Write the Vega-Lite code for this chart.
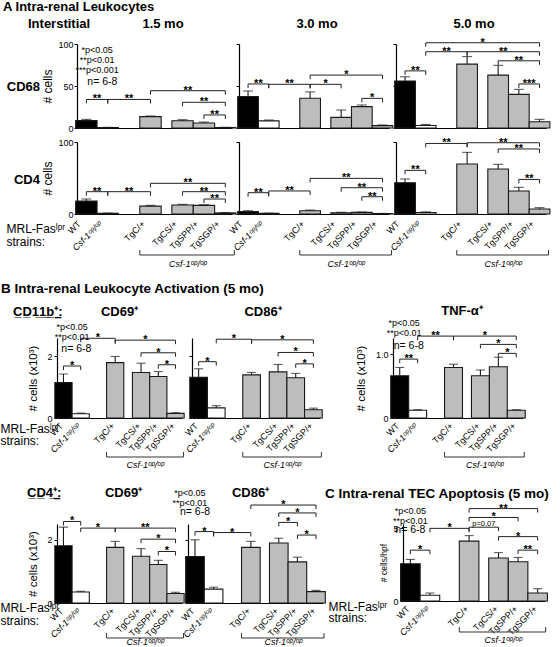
{
"$schema":"https://vega.github.io/schema/vega-lite/v6.json",
"padding":{"left":0,"top":1,"right":0,"bottom":0},
"config":{"view":{"stroke":null},"font":"Liberation Sans",
"axis":{"domainColor":"#000","domainWidth":1.2,"tickColor":"#000","tickWidth":1,"labelColor":"#000","titleColor":"#000","labelFont":"Liberation Sans","titleFont":"Liberation Sans","grid":false,"labelFontSize":9,"titleFontWeight":"normal"},
"title":{"color":"#000","font":"Liberation Sans","fontSize":13,"fontWeight":"bold","frame":"group"},
"text":{"color":"#000","font":"Liberation Sans"}},
"datasets":{
"one":[{"k":1}],
"bars":[
{"p":"a1","s":"WT","m":9,"e":10.3},{"p":"a1","s":"Csf-1ᵒᵖ/ᵒᵖ","m":0.6,"e":0.8},{"p":"a1","s":"TgC/+","m":13.5,"e":14.3},{"p":"a1","s":"TgCS/+","m":8.7,"e":9.9},{"p":"a1","s":"TgSPP/+","m":6,"e":7.1},{"p":"a1","s":"TgSGP/+","m":0.6,"e":0.8},
{"p":"a2","s":"WT","m":37.5,"e":44},{"p":"a2","s":"Csf-1ᵒᵖ/ᵒᵖ","m":8.5,"e":9.5},{"p":"a2","s":"TgC/+","m":35.5,"e":43},{"p":"a2","s":"TgCS/+","m":12.7,"e":21.4},{"p":"a2","s":"TgSPP/+","m":25.4,"e":27.4},{"p":"a2","s":"TgSGP/+","m":2.8,"e":3.6},
{"p":"a3","s":"WT","m":56,"e":61},{"p":"a3","s":"Csf-1ᵒᵖ/ᵒᵖ","m":3,"e":4.2},{"p":"a3","s":"TgC/+","m":76,"e":85},{"p":"a3","s":"TgCS/+","m":63,"e":74.6},{"p":"a3","s":"TgSPP/+","m":40,"e":46},{"p":"a3","s":"TgSGP/+","m":7.5,"e":10.3},
{"p":"a4","s":"WT","m":18,"e":20.8},{"p":"a4","s":"Csf-1ᵒᵖ/ᵒᵖ","m":1,"e":1.3},{"p":"a4","s":"TgC/+","m":11,"e":12},{"p":"a4","s":"TgCS/+","m":12.5,"e":13.4},{"p":"a4","s":"TgSPP/+","m":12,"e":12.9},{"p":"a4","s":"TgSGP/+","m":1.5,"e":2},
{"p":"a5","s":"WT","m":3.5,"e":4.5},{"p":"a5","s":"Csf-1ᵒᵖ/ᵒᵖ","m":1,"e":1.2},{"p":"a5","s":"TgC/+","m":4.6,"e":5.5},{"p":"a5","s":"TgCS/+","m":1.8,"e":2.4},{"p":"a5","s":"TgSPP/+","m":2.2,"e":2.8},{"p":"a5","s":"TgSGP/+","m":0.6,"e":0.8},
{"p":"a6","s":"WT","m":43.5,"e":48.6},{"p":"a6","s":"Csf-1ᵒᵖ/ᵒᵖ","m":2,"e":3},{"p":"a6","s":"TgC/+","m":69.4,"e":85.6},{"p":"a6","s":"TgCS/+","m":62.5,"e":69},{"p":"a6","s":"TgSPP/+","m":32,"e":37},{"p":"a6","s":"TgSGP/+","m":7,"e":8.8},
{"p":"b1","s":"WT","m":1.15,"e":1.43},{"p":"b1","s":"Csf-1ᵒᵖ/ᵒᵖ","m":0.14,"e":0.16},{"p":"b1","s":"TgC/+","m":1.8,"e":2.0},{"p":"b1","s":"TgCS/+","m":1.48,"e":1.78},{"p":"b1","s":"TgSPP/+","m":1.35,"e":1.51},{"p":"b1","s":"TgSGP/+","m":0.15,"e":0.17},
{"p":"b2","s":"WT","m":1.32,"e":1.6},{"p":"b2","s":"Csf-1ᵒᵖ/ᵒᵖ","m":0.33,"e":0.4},{"p":"b2","s":"TgC/+","m":1.4,"e":1.48},{"p":"b2","s":"TgCS/+","m":1.5,"e":1.74},{"p":"b2","s":"TgSPP/+","m":1.31,"e":1.45},{"p":"b2","s":"TgSGP/+","m":0.27,"e":0.32},
{"p":"b3","s":"WT","m":0.66,"e":0.79},{"p":"b3","s":"Csf-1ᵒᵖ/ᵒᵖ","m":0.12,"e":0.13},{"p":"b3","s":"TgC/+","m":0.79,"e":0.84},{"p":"b3","s":"TgCS/+","m":0.66,"e":0.75},{"p":"b3","s":"TgSPP/+","m":0.8,"e":0.95},{"p":"b3","s":"TgSGP/+","m":0.12,"e":0.13},
{"p":"b4","s":"WT","m":1.81,"e":2.4},{"p":"b4","s":"Csf-1ᵒᵖ/ᵒᵖ","m":0.35,"e":0.37},{"p":"b4","s":"TgC/+","m":1.76,"e":1.95},{"p":"b4","s":"TgCS/+","m":1.48,"e":1.72},{"p":"b4","s":"TgSPP/+","m":1.22,"e":1.35},{"p":"b4","s":"TgSGP/+","m":0.3,"e":0.34},
{"p":"b5","s":"WT","m":1.47,"e":2.0},{"p":"b5","s":"Csf-1ᵒᵖ/ᵒᵖ","m":0.44,"e":0.5},{"p":"b5","s":"TgC/+","m":1.76,"e":1.95},{"p":"b5","s":"TgCS/+","m":1.9,"e":2.05},{"p":"b5","s":"TgSPP/+","m":1.3,"e":1.45},{"p":"b5","s":"TgSGP/+","m":0.36,"e":0.4},
{"p":"c1","s":"WT","m":2.56,"e":2.86},{"p":"c1","s":"Csf-1ᵒᵖ/ᵒᵖ","m":0.4,"e":0.55},{"p":"c1","s":"TgC/+","m":4.12,"e":4.5},{"p":"c1","s":"TgCS/+","m":2.96,"e":3.33},{"p":"c1","s":"TgSPP/+","m":2.7,"e":3.0},{"p":"c1","s":"TgSGP/+","m":0.55,"e":0.85}
],
"sig":[
{"p":"a1","a":"WT","b":"Csf-1ᵒᵖ/ᵒᵖ","c":"q2","v":34,"t":"**"},{"p":"a1","a":"Csf-1ᵒᵖ/ᵒᵖ","b":"TgC/+","c":"q8","v":34,"t":"**"},{"p":"a1","a":"TgC/+","b":"TgSGP/+","c":"q19","v":44.4,"t":"**"},{"p":"a1","a":"TgCS/+","b":"TgSGP/+","c":"TgSPP/+","v":30.6,"t":"**"},{"p":"a1","a":"TgSPP/+","b":"TgSGP/+","c":"q24","v":15.5,"t":"**"},
{"p":"a2","a":"WT","b":"Csf-1ᵒᵖ/ᵒᵖ","c":"q2","v":52.4,"t":"**"},{"p":"a2","a":"Csf-1ᵒᵖ/ᵒᵖ","b":"TgC/+","c":"q8","v":52,"t":"**"},{"p":"a2","a":"TgC/+","b":"TgCS/+","c":"q15","v":52,"t":"*"},{"p":"a2","a":"TgC/+","b":"TgSGP/+","c":"q19","v":63,"t":"*"},{"p":"a2","a":"TgSPP/+","b":"TgSGP/+","c":"q24","v":35.3,"t":"*"},
{"p":"a3","a":"WT","b":"Csf-1ᵒᵖ/ᵒᵖ","c":"q2","v":68,"t":"**"},{"p":"a3","a":"Csf-1ᵒᵖ/ᵒᵖ","b":"TgC/+","c":"q8","v":90.8,"t":"**"},{"p":"a3","a":"TgC/+","b":"TgSGP/+","c":"q19","v":90.8,"t":"**"},{"p":"a3","a":"Csf-1ᵒᵖ/ᵒᵖ","b":"TgSGP/+","c":"q15","v":101.5,"t":"*"},{"p":"a3","a":"TgCS/+","b":"TgSGP/+","c":"TgSPP/+","v":80,"t":"**"},{"p":"a3","a":"TgSPP/+","b":"TgSGP/+","c":"q24","v":52.4,"t":"***"},
{"p":"a4","a":"WT","b":"Csf-1ᵒᵖ/ᵒᵖ","c":"q2","v":31,"t":"**"},{"p":"a4","a":"Csf-1ᵒᵖ/ᵒᵖ","b":"TgC/+","c":"q8","v":31,"t":"**"},{"p":"a4","a":"TgC/+","b":"TgSGP/+","c":"q19","v":42.6,"t":"**"},{"p":"a4","a":"TgCS/+","b":"TgSGP/+","c":"TgSPP/+","v":31,"t":"**"},{"p":"a4","a":"TgSPP/+","b":"TgSGP/+","c":"q24","v":20.8,"t":"**"},
{"p":"a5","a":"WT","b":"Csf-1ᵒᵖ/ᵒᵖ","c":"q2","v":29.6,"t":"**"},{"p":"a5","a":"Csf-1ᵒᵖ/ᵒᵖ","b":"TgC/+","c":"q8","v":32,"t":"**"},{"p":"a5","a":"TgC/+","b":"TgSGP/+","c":"q19","v":49.5,"t":"**"},{"p":"a5","a":"TgCS/+","b":"TgSGP/+","c":"TgSPP/+","v":36.5,"t":"**"},{"p":"a5","a":"TgSPP/+","b":"TgSGP/+","c":"q24","v":24,"t":"**"},
{"p":"a6","a":"WT","b":"Csf-1ᵒᵖ/ᵒᵖ","c":"q2","v":60.6,"t":"**"},{"p":"a6","a":"Csf-1ᵒᵖ/ᵒᵖ","b":"TgC/+","c":"q8","v":98,"t":"**"},{"p":"a6","a":"TgC/+","b":"TgSGP/+","c":"q19","v":99,"t":"**"},{"p":"a6","a":"TgCS/+","b":"TgSGP/+","c":"TgSPP/+","v":90.3,"t":"**"},{"p":"a6","a":"TgSPP/+","b":"TgSGP/+","c":"q24","v":48,"t":"**"},
{"p":"b1","a":"WT","b":"Csf-1ᵒᵖ/ᵒᵖ","c":"q2","v":1.69,"t":"*"},{"p":"b1","a":"Csf-1ᵒᵖ/ᵒᵖ","b":"TgC/+","c":"q8","v":2.59,"t":"*"},{"p":"b1","a":"TgC/+","b":"TgSGP/+","c":"q19","v":2.53,"t":"*"},{"p":"b1","a":"TgCS/+","b":"TgSGP/+","c":"TgSPP/+","v":2.12,"t":"*"},{"p":"b1","a":"TgSPP/+","b":"TgSGP/+","c":"q24","v":1.73,"t":"*"},
{"p":"b2","a":"WT","b":"Csf-1ᵒᵖ/ᵒᵖ","c":"q2","v":1.83,"t":"*"},{"p":"b2","a":"Csf-1ᵒᵖ/ᵒᵖ","b":"TgC/+","c":"q8","v":2.56,"t":"*"},{"p":"b2","a":"TgC/+","b":"TgSGP/+","c":"q19","v":2.54,"t":"*"},{"p":"b2","a":"TgCS/+","b":"TgSGP/+","c":"TgSPP/+","v":2.13,"t":"*"},{"p":"b2","a":"TgSPP/+","b":"TgSGP/+","c":"q24","v":1.76,"t":"*"},
{"p":"b3","a":"WT","b":"Csf-1ᵒᵖ/ᵒᵖ","c":"q2","v":0.92,"t":"**"},{"p":"b3","a":"Csf-1ᵒᵖ/ᵒᵖ","b":"TgC/+","c":"q8","v":1.28,"t":"**"},{"p":"b3","a":"TgC/+","b":"TgSGP/+","c":"q19","v":1.28,"t":"*"},{"p":"b3","a":"TgCS/+","b":"TgSGP/+","c":"TgSPP/+","v":1.15,"t":"*"},{"p":"b3","a":"TgSPP/+","b":"TgSGP/+","c":"q24","v":1.01,"t":"*"},
{"p":"b4","a":"WT","b":"Csf-1ᵒᵖ/ᵒᵖ","c":"q2","v":2.58,"t":"*"},{"p":"b4","a":"Csf-1ᵒᵖ/ᵒᵖ","b":"TgC/+","c":"q8","v":2.37,"t":"*"},{"p":"b4","a":"TgC/+","b":"TgSGP/+","c":"q19","v":2.37,"t":"**"},{"p":"b4","a":"TgCS/+","b":"TgSGP/+","c":"TgSPP/+","v":2.02,"t":"*"},{"p":"b4","a":"TgSPP/+","b":"TgSGP/+","c":"q24","v":1.63,"t":"*"},
{"p":"b5","a":"WT","b":"Csf-1ᵒᵖ/ᵒᵖ","c":"q2","v":2.26,"t":"*"},{"p":"b5","a":"Csf-1ᵒᵖ/ᵒᵖ","b":"TgC/+","c":"q8","v":2.23,"t":"*"},{"p":"b5","a":"TgC/+","b":"TgSGP/+","c":"q19","v":3.1,"t":"*"},{"p":"b5","a":"TgCS/+","b":"TgSGP/+","c":"TgSPP/+","v":2.85,"t":"*"},{"p":"b5","a":"TgCS/+","b":"TgSPP/+","c":"q20","v":2.55,"t":"*"},{"p":"b5","a":"TgSPP/+","b":"TgSGP/+","c":"q24","v":2.15,"t":"*"},
{"p":"c1","a":"WT","b":"Csf-1ᵒᵖ/ᵒᵖ","c":"q2","v":3.5,"t":"*"},{"p":"c1","a":"Csf-1ᵒᵖ/ᵒᵖ","b":"TgC/+","c":"q8","v":5.0,"t":"*"},{"p":"c1","a":"TgC/+","b":"TgCS/+","c":"q15","v":5.08,"t":"p=0.07"},{"p":"c1","a":"TgC/+","b":"TgSPP/+","c":"q17","v":5.75,"t":"*"},{"p":"c1","a":"TgC/+","b":"TgSGP/+","c":"q19","v":6.36,"t":"**"},{"p":"c1","a":"TgCS/+","b":"TgSGP/+","c":"TgSPP/+","v":4.43,"t":"*"},{"p":"c1","a":"TgSPP/+","b":"TgSGP/+","c":"q24","v":3.5,"t":"**"}
]},
"vconcat":[
{"vconcat":[
 {"hconcat":[
  {"width":13,"height":1,"data":{"values":[]},"mark":"point","title":{"text":"Interstitial","anchor":"start","dx":-29,"offset":-9,"baseline":"alphabetic"}},
  {"width":155,"height":1,"data":{"values":[]},"mark":"point","title":{"text":"1.5 mo","dx":8.5,"offset":-9,"baseline":"alphabetic"}},
  {"width":150,"height":1,"data":{"values":[]},"mark":"point","title":{"text":"3.0 mo","dx":3,"offset":-9,"baseline":"alphabetic"}},
  {"width":150,"height":1,"data":{"values":[]},"mark":"point","title":{"text":"5.0 mo","dx":3,"offset":-9,"baseline":"alphabetic"}}
 ],"spacing":7,"bounds":"flush","title":{"text":"A    Intra-renal Leukocytes","anchor":"start","dx":-54,"offset":-6,"baseline":"alphabetic"}},
 {"hconcat":[
  {"width":13,"height":84,"data":{"values":[]},"mark":"point","title":{"text":"CD68","anchor":"end","dx":-30,"offset":-60,"baseline":"alphabetic"}},
  {"width":155,"height":84,"layer":[
   {"data":{"name":"bars"},"transform":[{"filter":"datum.p=='a1'"}],"mark":{"type":"bar","width":{"band":4},"stroke":"#1a1a1a","strokeWidth":1.1},"encoding":{"x":{"field":"s","type":"nominal","scale":{"domain":["WT","q1","q2","q3","Csf-1ᵒᵖ/ᵒᵖ","q5","q6","q7","q8","q9","q10","q11","TgC/+","q13","q14","q15","q16","q17","TgCS/+","q19","q20","q21","TgSPP/+","q23","q24","q25","TgSGP/+"],"paddingInner":0,"paddingOuter":2.8,"align":0.625},"axis":{"labels":false,"ticks":false,"title":null}},"y":{"field":"m","type":"quantitative","scale":{"domain":[0,100],"nice":false},"axis":{"values":[0,50,100],"title":"# cells","tickSize":3,"labelPadding":1,"titleFontSize":12,"titlePadding":3}},"fill":{"field":"s","type":"nominal","scale":{"domain":["WT","Csf-1ᵒᵖ/ᵒᵖ","TgC/+","TgCS/+","TgSPP/+","TgSGP/+"],"range":["#000000","#ffffff","#bdbdbd","#bdbdbd","#bdbdbd","#bdbdbd"]},"legend":null}}},
   {"data":{"name":"bars"},"transform":[{"filter":"datum.p=='a1'"}],"mark":{"type":"rule","color":"#1a1a1a","strokeWidth":1.1},"encoding":{"x":{"field":"s","type":"nominal"},"y":{"field":"m","type":"quantitative"},"y2":{"field":"e"}}},
   {"data":{"name":"bars"},"transform":[{"filter":"datum.p=='a1'"}],"mark":{"type":"tick","color":"#1a1a1a","thickness":1.1,"size":10},"encoding":{"x":{"field":"s","type":"nominal"},"y":{"field":"e","type":"quantitative"}}},
   {"data":{"name":"sig"},"transform":[{"filter":"datum.p=='a1'"}],"mark":{"type":"rule","color":"#222","strokeWidth":1},"encoding":{"x":{"field":"a","type":"nominal"},"x2":{"field":"b"},"y":{"field":"v","type":"quantitative"}}},
   {"data":{"name":"sig"},"transform":[{"filter":"datum.p=='a1'"}],"mark":{"type":"rule","color":"#222","strokeWidth":1,"y2Offset":4},"encoding":{"x":{"field":"a","type":"nominal"},"y":{"field":"v","type":"quantitative"},"y2":{"field":"v"}}},
   {"data":{"name":"sig"},"transform":[{"filter":"datum.p=='a1'"}],"mark":{"type":"rule","color":"#222","strokeWidth":1,"y2Offset":4},"encoding":{"x":{"field":"b","type":"nominal"},"y":{"field":"v","type":"quantitative"},"y2":{"field":"v"}}},
   {"data":{"name":"sig"},"transform":[{"filter":"datum.p=='a1' && indexof(datum.t,'*')==0"}],"mark":{"type":"text","color":"#000","fontSize":11,"fontWeight":"bold","baseline":"alphabetic","dy":3},"encoding":{"x":{"field":"c","type":"nominal"},"y":{"field":"v","type":"quantitative"},"text":{"field":"t"}}},
   {"data":{"name":"one"},"mark":{"type":"text","color":"#000","baseline":"top","fontSize":9,"lineHeight":10},"encoding":{"x":{"datum":"q2"},"y":{"datum":98},"text":{"value":["*p<0.05","**p<0.01","***p<0.001"]}}},
   {"data":{"name":"one"},"mark":{"type":"text","color":"#000","baseline":"alphabetic","fontSize":10.5},"encoding":{"x":{"datum":"q3"},"y":{"datum":50.6},"text":{"value":"n= 6-8"}}}
  ]},
  {"width":150,"height":84,"layer":[
   {"data":{"name":"bars"},"transform":[{"filter":"datum.p=='a2'"}],"mark":{"type":"bar","width":{"band":4},"stroke":"#1a1a1a","strokeWidth":1.1},"encoding":{"x":{"field":"s","type":"nominal","scale":{"domain":["WT","q1","q2","q3","Csf-1ᵒᵖ/ᵒᵖ","q5","q6","q7","q8","q9","q10","q11","TgC/+","q13","q14","q15","q16","q17","TgCS/+","q19","q20","q21","TgSPP/+","q23","q24","q25","TgSGP/+"],"paddingInner":0,"paddingOuter":2.8,"align":0.625},"axis":{"labels":false,"ticks":false,"title":null}},"y":{"field":"m","type":"quantitative","scale":{"domain":[0,100],"nice":false},"axis":{"values":[0,50,100],"labels":false,"title":null,"tickSize":3}},"fill":{"field":"s","type":"nominal","scale":{"domain":["WT","Csf-1ᵒᵖ/ᵒᵖ","TgC/+","TgCS/+","TgSPP/+","TgSGP/+"],"range":["#000000","#ffffff","#bdbdbd","#bdbdbd","#bdbdbd","#bdbdbd"]},"legend":null}}},
   {"data":{"name":"bars"},"transform":[{"filter":"datum.p=='a2'"}],"mark":{"type":"rule","color":"#1a1a1a","strokeWidth":1.1},"encoding":{"x":{"field":"s","type":"nominal"},"y":{"field":"m","type":"quantitative"},"y2":{"field":"e"}}},
   {"data":{"name":"bars"},"transform":[{"filter":"datum.p=='a2'"}],"mark":{"type":"tick","color":"#1a1a1a","thickness":1.1,"size":10},"encoding":{"x":{"field":"s","type":"nominal"},"y":{"field":"e","type":"quantitative"}}},
   {"data":{"name":"sig"},"transform":[{"filter":"datum.p=='a2'"}],"mark":{"type":"rule","color":"#222","strokeWidth":1},"encoding":{"x":{"field":"a","type":"nominal"},"x2":{"field":"b"},"y":{"field":"v","type":"quantitative"}}},
   {"data":{"name":"sig"},"transform":[{"filter":"datum.p=='a2'"}],"mark":{"type":"rule","color":"#222","strokeWidth":1,"y2Offset":4},"encoding":{"x":{"field":"a","type":"nominal"},"y":{"field":"v","type":"quantitative"},"y2":{"field":"v"}}},
   {"data":{"name":"sig"},"transform":[{"filter":"datum.p=='a2'"}],"mark":{"type":"rule","color":"#222","strokeWidth":1,"y2Offset":4},"encoding":{"x":{"field":"b","type":"nominal"},"y":{"field":"v","type":"quantitative"},"y2":{"field":"v"}}},
   {"data":{"name":"sig"},"transform":[{"filter":"datum.p=='a2' && indexof(datum.t,'*')==0"}],"mark":{"type":"text","color":"#000","fontSize":11,"fontWeight":"bold","baseline":"alphabetic","dy":3},"encoding":{"x":{"field":"c","type":"nominal"},"y":{"field":"v","type":"quantitative"},"text":{"field":"t"}}}
  ]},
  {"width":150,"height":84,"layer":[
   {"data":{"name":"bars"},"transform":[{"filter":"datum.p=='a3'"}],"mark":{"type":"bar","width":{"band":4},"stroke":"#1a1a1a","strokeWidth":1.1},"encoding":{"x":{"field":"s","type":"nominal","scale":{"domain":["WT","q1","q2","q3","Csf-1ᵒᵖ/ᵒᵖ","q5","q6","q7","q8","q9","q10","q11","TgC/+","q13","q14","q15","q16","q17","TgCS/+","q19","q20","q21","TgSPP/+","q23","q24","q25","TgSGP/+"],"paddingInner":0,"paddingOuter":2.8,"align":0.625},"axis":{"labels":false,"ticks":false,"title":null}},"y":{"field":"m","type":"quantitative","scale":{"domain":[0,100],"nice":false},"axis":{"values":[0,50,100],"labels":false,"title":null,"tickSize":3}},"fill":{"field":"s","type":"nominal","scale":{"domain":["WT","Csf-1ᵒᵖ/ᵒᵖ","TgC/+","TgCS/+","TgSPP/+","TgSGP/+"],"range":["#000000","#ffffff","#bdbdbd","#bdbdbd","#bdbdbd","#bdbdbd"]},"legend":null}}},
   {"data":{"name":"bars"},"transform":[{"filter":"datum.p=='a3'"}],"mark":{"type":"rule","color":"#1a1a1a","strokeWidth":1.1},"encoding":{"x":{"field":"s","type":"nominal"},"y":{"field":"m","type":"quantitative"},"y2":{"field":"e"}}},
   {"data":{"name":"bars"},"transform":[{"filter":"datum.p=='a3'"}],"mark":{"type":"tick","color":"#1a1a1a","thickness":1.1,"size":10},"encoding":{"x":{"field":"s","type":"nominal"},"y":{"field":"e","type":"quantitative"}}},
   {"data":{"name":"sig"},"transform":[{"filter":"datum.p=='a3'"}],"mark":{"type":"rule","color":"#222","strokeWidth":1},"encoding":{"x":{"field":"a","type":"nominal"},"x2":{"field":"b"},"y":{"field":"v","type":"quantitative"}}},
   {"data":{"name":"sig"},"transform":[{"filter":"datum.p=='a3'"}],"mark":{"type":"rule","color":"#222","strokeWidth":1,"y2Offset":4},"encoding":{"x":{"field":"a","type":"nominal"},"y":{"field":"v","type":"quantitative"},"y2":{"field":"v"}}},
   {"data":{"name":"sig"},"transform":[{"filter":"datum.p=='a3'"}],"mark":{"type":"rule","color":"#222","strokeWidth":1,"y2Offset":4},"encoding":{"x":{"field":"b","type":"nominal"},"y":{"field":"v","type":"quantitative"},"y2":{"field":"v"}}},
   {"data":{"name":"sig"},"transform":[{"filter":"datum.p=='a3' && indexof(datum.t,'*')==0"}],"mark":{"type":"text","color":"#000","fontSize":11,"fontWeight":"bold","baseline":"alphabetic","dy":3},"encoding":{"x":{"field":"c","type":"nominal"},"y":{"field":"v","type":"quantitative"},"text":{"field":"t"}}}
  ]}
 ],"spacing":7,"bounds":"flush"},
 {"hconcat":[
  {"width":13,"height":72,"data":{"values":[]},"mark":"point","title":{"text":"CD4","anchor":"end","dx":-30,"offset":-54.5,"baseline":"alphabetic"}},
  {"width":155,"height":72,"layer":[
   {"data":{"name":"bars"},"transform":[{"filter":"datum.p=='a4'"}],"mark":{"type":"bar","width":{"band":4},"stroke":"#1a1a1a","strokeWidth":1.1},"encoding":{"x":{"field":"s","type":"nominal","scale":{"domain":["WT","q1","q2","q3","Csf-1ᵒᵖ/ᵒᵖ","q5","q6","q7","q8","q9","q10","q11","TgC/+","q13","q14","q15","q16","q17","TgCS/+","q19","q20","q21","TgSPP/+","q23","q24","q25","TgSGP/+"],"paddingInner":0,"paddingOuter":2.8,"align":0.625},"axis":{"ticks":false,"labelAngle":-45,"labelAlign":"right","labelBaseline":"middle","labelPadding":8,"labelOffset":-7,"labelOverlap":false,"labelFontSize":9,"labelExpr":"indexof(datum.value,'q')==0 ? '' : datum.value","labelFontStyle":{"condition":{"test":"indexof(datum.value,'Csf')==0","value":"italic"},"value":"normal"},"title":["MRL-Fasˡᵖʳ","strains:"],"titleX":-71,"titleY":18,"titleAlign":"left","titleBaseline":"alphabetic","titleAngle":0,"titleFontSize":12,"titleLineHeight":13}},"y":{"field":"m","type":"quantitative","scale":{"domain":[0,100],"nice":false},"axis":{"values":[0,50,100],"title":"# cells","tickSize":3,"labelPadding":1,"titleFontSize":12,"titlePadding":3}},"fill":{"field":"s","type":"nominal","scale":{"domain":["WT","Csf-1ᵒᵖ/ᵒᵖ","TgC/+","TgCS/+","TgSPP/+","TgSGP/+"],"range":["#000000","#ffffff","#bdbdbd","#bdbdbd","#bdbdbd","#bdbdbd"]},"legend":null}}},
   {"data":{"name":"bars"},"transform":[{"filter":"datum.p=='a4'"}],"mark":{"type":"rule","color":"#1a1a1a","strokeWidth":1.1},"encoding":{"x":{"field":"s","type":"nominal"},"y":{"field":"m","type":"quantitative"},"y2":{"field":"e"}}},
   {"data":{"name":"bars"},"transform":[{"filter":"datum.p=='a4'"}],"mark":{"type":"tick","color":"#1a1a1a","thickness":1.1,"size":10},"encoding":{"x":{"field":"s","type":"nominal"},"y":{"field":"e","type":"quantitative"}}},
   {"data":{"name":"sig"},"transform":[{"filter":"datum.p=='a4'"}],"mark":{"type":"rule","color":"#222","strokeWidth":1},"encoding":{"x":{"field":"a","type":"nominal"},"x2":{"field":"b"},"y":{"field":"v","type":"quantitative"}}},
   {"data":{"name":"sig"},"transform":[{"filter":"datum.p=='a4'"}],"mark":{"type":"rule","color":"#222","strokeWidth":1,"y2Offset":4},"encoding":{"x":{"field":"a","type":"nominal"},"y":{"field":"v","type":"quantitative"},"y2":{"field":"v"}}},
   {"data":{"name":"sig"},"transform":[{"filter":"datum.p=='a4'"}],"mark":{"type":"rule","color":"#222","strokeWidth":1,"y2Offset":4},"encoding":{"x":{"field":"b","type":"nominal"},"y":{"field":"v","type":"quantitative"},"y2":{"field":"v"}}},
   {"data":{"name":"sig"},"transform":[{"filter":"datum.p=='a4' && indexof(datum.t,'*')==0"}],"mark":{"type":"text","color":"#000","fontSize":11,"fontWeight":"bold","baseline":"alphabetic","dy":3},"encoding":{"x":{"field":"c","type":"nominal"},"y":{"field":"v","type":"quantitative"},"text":{"field":"t"}}},
   {"data":{"name":"one"},"mark":{"type":"rule","color":"#333","strokeWidth":1,"yOffset":41,"x2Offset":9},"encoding":{"x":{"datum":"q10"},"x2":{"datum":"TgSGP/+"},"y":{"datum":0}}},
   {"data":{"name":"one"},"mark":{"type":"rule","color":"#333","strokeWidth":1,"yOffset":36,"y2Offset":41},"encoding":{"x":{"datum":"q10"},"y":{"datum":0},"y2":{"datum":0}}},
   {"data":{"name":"one"},"mark":{"type":"rule","color":"#333","strokeWidth":1,"yOffset":36,"y2Offset":41,"xOffset":9},"encoding":{"x":{"datum":"TgSGP/+"},"y":{"datum":0},"y2":{"datum":0}}},
   {"data":{"name":"one"},"mark":{"type":"text","color":"#000","fontSize":9,"fontStyle":"italic","baseline":"alphabetic","dy":53},"encoding":{"x":{"datum":"q19"},"y":{"datum":0},"text":{"value":"Csf-1ᵒᵖ/ᵒᵖ"}}}
  ]},
  {"width":150,"height":72,"layer":[
   {"data":{"name":"bars"},"transform":[{"filter":"datum.p=='a5'"}],"mark":{"type":"bar","width":{"band":4},"stroke":"#1a1a1a","strokeWidth":1.1},"encoding":{"x":{"field":"s","type":"nominal","scale":{"domain":["WT","q1","q2","q3","Csf-1ᵒᵖ/ᵒᵖ","q5","q6","q7","q8","q9","q10","q11","TgC/+","q13","q14","q15","q16","q17","TgCS/+","q19","q20","q21","TgSPP/+","q23","q24","q25","TgSGP/+"],"paddingInner":0,"paddingOuter":2.8,"align":0.625},"axis":{"title":null,"ticks":false,"labelAngle":-45,"labelAlign":"right","labelBaseline":"middle","labelPadding":8,"labelOffset":-7,"labelOverlap":false,"labelFontSize":9,"labelExpr":"indexof(datum.value,'q')==0 ? '' : datum.value","labelFontStyle":{"condition":{"test":"indexof(datum.value,'Csf')==0","value":"italic"},"value":"normal"}}},"y":{"field":"m","type":"quantitative","scale":{"domain":[0,100],"nice":false},"axis":{"values":[0,50,100],"labels":false,"title":null,"tickSize":3}},"fill":{"field":"s","type":"nominal","scale":{"domain":["WT","Csf-1ᵒᵖ/ᵒᵖ","TgC/+","TgCS/+","TgSPP/+","TgSGP/+"],"range":["#000000","#ffffff","#bdbdbd","#bdbdbd","#bdbdbd","#bdbdbd"]},"legend":null}}},
   {"data":{"name":"bars"},"transform":[{"filter":"datum.p=='a5'"}],"mark":{"type":"rule","color":"#1a1a1a","strokeWidth":1.1},"encoding":{"x":{"field":"s","type":"nominal"},"y":{"field":"m","type":"quantitative"},"y2":{"field":"e"}}},
   {"data":{"name":"bars"},"transform":[{"filter":"datum.p=='a5'"}],"mark":{"type":"tick","color":"#1a1a1a","thickness":1.1,"size":10},"encoding":{"x":{"field":"s","type":"nominal"},"y":{"field":"e","type":"quantitative"}}},
   {"data":{"name":"sig"},"transform":[{"filter":"datum.p=='a5'"}],"mark":{"type":"rule","color":"#222","strokeWidth":1},"encoding":{"x":{"field":"a","type":"nominal"},"x2":{"field":"b"},"y":{"field":"v","type":"quantitative"}}},
   {"data":{"name":"sig"},"transform":[{"filter":"datum.p=='a5'"}],"mark":{"type":"rule","color":"#222","strokeWidth":1,"y2Offset":4},"encoding":{"x":{"field":"a","type":"nominal"},"y":{"field":"v","type":"quantitative"},"y2":{"field":"v"}}},
   {"data":{"name":"sig"},"transform":[{"filter":"datum.p=='a5'"}],"mark":{"type":"rule","color":"#222","strokeWidth":1,"y2Offset":4},"encoding":{"x":{"field":"b","type":"nominal"},"y":{"field":"v","type":"quantitative"},"y2":{"field":"v"}}},
   {"data":{"name":"sig"},"transform":[{"filter":"datum.p=='a5' && indexof(datum.t,'*')==0"}],"mark":{"type":"text","color":"#000","fontSize":11,"fontWeight":"bold","baseline":"alphabetic","dy":3},"encoding":{"x":{"field":"c","type":"nominal"},"y":{"field":"v","type":"quantitative"},"text":{"field":"t"}}},
   {"data":{"name":"one"},"mark":{"type":"rule","color":"#333","strokeWidth":1,"yOffset":41,"x2Offset":9},"encoding":{"x":{"datum":"q10"},"x2":{"datum":"TgSGP/+"},"y":{"datum":0}}},
   {"data":{"name":"one"},"mark":{"type":"rule","color":"#333","strokeWidth":1,"yOffset":36,"y2Offset":41},"encoding":{"x":{"datum":"q10"},"y":{"datum":0},"y2":{"datum":0}}},
   {"data":{"name":"one"},"mark":{"type":"rule","color":"#333","strokeWidth":1,"yOffset":36,"y2Offset":41,"xOffset":9},"encoding":{"x":{"datum":"TgSGP/+"},"y":{"datum":0},"y2":{"datum":0}}},
   {"data":{"name":"one"},"mark":{"type":"text","color":"#000","fontSize":9,"fontStyle":"italic","baseline":"alphabetic","dy":53},"encoding":{"x":{"datum":"q19"},"y":{"datum":0},"text":{"value":"Csf-1ᵒᵖ/ᵒᵖ"}}}
  ]},
  {"width":150,"height":72,"layer":[
   {"data":{"name":"bars"},"transform":[{"filter":"datum.p=='a6'"}],"mark":{"type":"bar","width":{"band":4},"stroke":"#1a1a1a","strokeWidth":1.1},"encoding":{"x":{"field":"s","type":"nominal","scale":{"domain":["WT","q1","q2","q3","Csf-1ᵒᵖ/ᵒᵖ","q5","q6","q7","q8","q9","q10","q11","TgC/+","q13","q14","q15","q16","q17","TgCS/+","q19","q20","q21","TgSPP/+","q23","q24","q25","TgSGP/+"],"paddingInner":0,"paddingOuter":2.8,"align":0.625},"axis":{"title":null,"ticks":false,"labelAngle":-45,"labelAlign":"right","labelBaseline":"middle","labelPadding":8,"labelOffset":-7,"labelOverlap":false,"labelFontSize":9,"labelExpr":"indexof(datum.value,'q')==0 ? '' : datum.value","labelFontStyle":{"condition":{"test":"indexof(datum.value,'Csf')==0","value":"italic"},"value":"normal"}}},"y":{"field":"m","type":"quantitative","scale":{"domain":[0,100],"nice":false},"axis":{"values":[0,50,100],"labels":false,"title":null,"tickSize":3}},"fill":{"field":"s","type":"nominal","scale":{"domain":["WT","Csf-1ᵒᵖ/ᵒᵖ","TgC/+","TgCS/+","TgSPP/+","TgSGP/+"],"range":["#000000","#ffffff","#bdbdbd","#bdbdbd","#bdbdbd","#bdbdbd"]},"legend":null}}},
   {"data":{"name":"bars"},"transform":[{"filter":"datum.p=='a6'"}],"mark":{"type":"rule","color":"#1a1a1a","strokeWidth":1.1},"encoding":{"x":{"field":"s","type":"nominal"},"y":{"field":"m","type":"quantitative"},"y2":{"field":"e"}}},
   {"data":{"name":"bars"},"transform":[{"filter":"datum.p=='a6'"}],"mark":{"type":"tick","color":"#1a1a1a","thickness":1.1,"size":10},"encoding":{"x":{"field":"s","type":"nominal"},"y":{"field":"e","type":"quantitative"}}},
   {"data":{"name":"sig"},"transform":[{"filter":"datum.p=='a6'"}],"mark":{"type":"rule","color":"#222","strokeWidth":1},"encoding":{"x":{"field":"a","type":"nominal"},"x2":{"field":"b"},"y":{"field":"v","type":"quantitative"}}},
   {"data":{"name":"sig"},"transform":[{"filter":"datum.p=='a6'"}],"mark":{"type":"rule","color":"#222","strokeWidth":1,"y2Offset":4},"encoding":{"x":{"field":"a","type":"nominal"},"y":{"field":"v","type":"quantitative"},"y2":{"field":"v"}}},
   {"data":{"name":"sig"},"transform":[{"filter":"datum.p=='a6'"}],"mark":{"type":"rule","color":"#222","strokeWidth":1,"y2Offset":4},"encoding":{"x":{"field":"b","type":"nominal"},"y":{"field":"v","type":"quantitative"},"y2":{"field":"v"}}},
   {"data":{"name":"sig"},"transform":[{"filter":"datum.p=='a6' && indexof(datum.t,'*')==0"}],"mark":{"type":"text","color":"#000","fontSize":11,"fontWeight":"bold","baseline":"alphabetic","dy":3},"encoding":{"x":{"field":"c","type":"nominal"},"y":{"field":"v","type":"quantitative"},"text":{"field":"t"}}},
   {"data":{"name":"one"},"mark":{"type":"rule","color":"#333","strokeWidth":1,"yOffset":41,"x2Offset":9},"encoding":{"x":{"datum":"q10"},"x2":{"datum":"TgSGP/+"},"y":{"datum":0}}},
   {"data":{"name":"one"},"mark":{"type":"rule","color":"#333","strokeWidth":1,"yOffset":36,"y2Offset":41},"encoding":{"x":{"datum":"q10"},"y":{"datum":0},"y2":{"datum":0}}},
   {"data":{"name":"one"},"mark":{"type":"rule","color":"#333","strokeWidth":1,"yOffset":36,"y2Offset":41,"xOffset":9},"encoding":{"x":{"datum":"TgSGP/+"},"y":{"datum":0},"y2":{"datum":0}}},
   {"data":{"name":"one"},"mark":{"type":"text","color":"#000","fontSize":9,"fontStyle":"italic","baseline":"alphabetic","dy":53},"encoding":{"x":{"datum":"q19"},"y":{"datum":0},"text":{"value":"Csf-1ᵒᵖ/ᵒᵖ"}}}
  ]}
 ],"spacing":7,"bounds":"flush"}
],"spacing":3},
{"vconcat":[
 {"hconcat":[
   {"width":125,"height":80,"title":{"text":"CD69⁺","offset":-6.1,"baseline":"alphabetic"},"layer":[
    {"data":{"name":"bars"},"transform":[{"filter":"datum.p=='b1'"}],"mark":{"type":"bar","width":{"band":4},"stroke":"#1a1a1a","strokeWidth":1.1},"encoding":{"x":{"field":"s","type":"nominal","scale":{"domain":["WT","q1","q2","q3","Csf-1ᵒᵖ/ᵒᵖ","q5","q6","q7","q8","q9","q10","q11","TgC/+","q13","q14","q15","q16","q17","TgCS/+","q19","q20","q21","TgSPP/+","q23","q24","q25","TgSGP/+"],"paddingInner":0,"paddingOuter":1.9,"align":0.5},"axis":{"ticks":false,"labelAngle":-45,"labelAlign":"right","labelBaseline":"middle","labelPadding":6,"labelOffset":-2,"labelOverlap":false,"labelFontSize":9,"labelExpr":"indexof(datum.value,'q')==0 ? '' : datum.value","labelFontStyle":{"condition":{"test":"indexof(datum.value,'Csf')==0","value":"italic"},"value":"normal"},"title":["MRL-Fasˡᵖʳ","strains:"],"titleX":-57,"titleY":14.5,"titleAlign":"left","titleBaseline":"alphabetic","titleAngle":0,"titleFontSize":12,"titleLineHeight":12}},"y":{"field":"m","type":"quantitative","scale":{"domain":[0,2.6],"nice":false},"axis":{"values":[0,1,2],"title":"# cells (x10³)","tickSize":3,"labelPadding":2,"titleFontSize":11.5,"titlePadding":8}},"fill":{"field":"s","type":"nominal","scale":{"domain":["WT","Csf-1ᵒᵖ/ᵒᵖ","TgC/+","TgCS/+","TgSPP/+","TgSGP/+"],"range":["#000000","#ffffff","#bdbdbd","#bdbdbd","#bdbdbd","#bdbdbd"]},"legend":null}}},
    {"data":{"name":"bars"},"transform":[{"filter":"datum.p=='b1'"}],"mark":{"type":"rule","color":"#1a1a1a","strokeWidth":1.1},"encoding":{"x":{"field":"s","type":"nominal"},"y":{"field":"m","type":"quantitative"},"y2":{"field":"e"}}},
    {"data":{"name":"bars"},"transform":[{"filter":"datum.p=='b1'"}],"mark":{"type":"tick","color":"#1a1a1a","thickness":1.1,"size":9},"encoding":{"x":{"field":"s","type":"nominal"},"y":{"field":"e","type":"quantitative"}}},
    {"data":{"name":"sig"},"transform":[{"filter":"datum.p=='b1'"}],"mark":{"type":"rule","color":"#222","strokeWidth":1},"encoding":{"x":{"field":"a","type":"nominal"},"x2":{"field":"b"},"y":{"field":"v","type":"quantitative"}}},
    {"data":{"name":"sig"},"transform":[{"filter":"datum.p=='b1'"}],"mark":{"type":"rule","color":"#222","strokeWidth":1,"y2Offset":4},"encoding":{"x":{"field":"a","type":"nominal"},"y":{"field":"v","type":"quantitative"},"y2":{"field":"v"}}},
    {"data":{"name":"sig"},"transform":[{"filter":"datum.p=='b1'"}],"mark":{"type":"rule","color":"#222","strokeWidth":1,"y2Offset":4},"encoding":{"x":{"field":"b","type":"nominal"},"y":{"field":"v","type":"quantitative"},"y2":{"field":"v"}}},
    {"data":{"name":"sig"},"transform":[{"filter":"datum.p=='b1' && indexof(datum.t,'*')==0"}],"mark":{"type":"text","color":"#000","fontSize":11,"fontWeight":"bold","baseline":"alphabetic","dy":3},"encoding":{"x":{"field":"c","type":"nominal"},"y":{"field":"v","type":"quantitative"},"text":{"field":"t"}}},
    {"data":{"name":"one"},"mark":{"type":"text","color":"#000","baseline":"top","fontSize":9,"lineHeight":10},"encoding":{"x":{"datum":"q2"},"y":{"datum":3.09},"text":{"value":["*p<0.05","**p<0.01"]}}},
    {"data":{"name":"one"},"mark":{"type":"text","color":"#000","baseline":"alphabetic","fontSize":10.5},"encoding":{"x":{"datum":"q3"},"y":{"datum":2.15},"text":{"value":"n= 6-8"}}},
    {"data":{"name":"one"},"mark":{"type":"rule","color":"#333","strokeWidth":1,"yOffset":39,"x2Offset":8},"encoding":{"x":{"datum":"q10"},"x2":{"datum":"TgSGP/+"},"y":{"datum":0}}},
    {"data":{"name":"one"},"mark":{"type":"rule","color":"#333","strokeWidth":1,"yOffset":34,"y2Offset":39},"encoding":{"x":{"datum":"q10"},"y":{"datum":0},"y2":{"datum":0}}},
    {"data":{"name":"one"},"mark":{"type":"rule","color":"#333","strokeWidth":1,"yOffset":34,"y2Offset":39,"xOffset":8},"encoding":{"x":{"datum":"TgSGP/+"},"y":{"datum":0},"y2":{"datum":0}}},
    {"data":{"name":"one"},"mark":{"type":"text","color":"#000","fontSize":9,"fontStyle":"italic","baseline":"alphabetic","dy":50},"encoding":{"x":{"datum":"q19"},"y":{"datum":0},"text":{"value":"Csf-1ᵒᵖ/ᵒᵖ"}}}
   ]},
   {"width":128,"height":80,"title":{"text":"CD86⁺","dx":7,"offset":4.2,"baseline":"alphabetic"},"layer":[
    {"data":{"name":"bars"},"transform":[{"filter":"datum.p=='b2'"}],"mark":{"type":"bar","width":{"band":4},"stroke":"#1a1a1a","strokeWidth":1.1},"encoding":{"x":{"field":"s","type":"nominal","scale":{"domain":["WT","q1","q2","q3","Csf-1ᵒᵖ/ᵒᵖ","q5","q6","q7","q8","q9","q10","q11","TgC/+","q13","q14","q15","q16","q17","TgCS/+","q19","q20","q21","TgSPP/+","q23","q24","q25","TgSGP/+"],"paddingInner":0,"paddingOuter":1.9,"align":0.5},"axis":{"title":null,"ticks":false,"labelAngle":-45,"labelAlign":"right","labelBaseline":"middle","labelPadding":6,"labelOffset":-2,"labelOverlap":false,"labelFontSize":9,"labelExpr":"indexof(datum.value,'q')==0 ? '' : datum.value","labelFontStyle":{"condition":{"test":"indexof(datum.value,'Csf')==0","value":"italic"},"value":"normal"}}},"y":{"field":"m","type":"quantitative","scale":{"domain":[0,2.6],"nice":false},"axis":{"values":[0,1,2],"labels":false,"title":null,"tickSize":3}},"fill":{"field":"s","type":"nominal","scale":{"domain":["WT","Csf-1ᵒᵖ/ᵒᵖ","TgC/+","TgCS/+","TgSPP/+","TgSGP/+"],"range":["#000000","#ffffff","#bdbdbd","#bdbdbd","#bdbdbd","#bdbdbd"]},"legend":null}}},
    {"data":{"name":"bars"},"transform":[{"filter":"datum.p=='b2'"}],"mark":{"type":"rule","color":"#1a1a1a","strokeWidth":1.1},"encoding":{"x":{"field":"s","type":"nominal"},"y":{"field":"m","type":"quantitative"},"y2":{"field":"e"}}},
    {"data":{"name":"bars"},"transform":[{"filter":"datum.p=='b2'"}],"mark":{"type":"tick","color":"#1a1a1a","thickness":1.1,"size":9},"encoding":{"x":{"field":"s","type":"nominal"},"y":{"field":"e","type":"quantitative"}}},
    {"data":{"name":"sig"},"transform":[{"filter":"datum.p=='b2'"}],"mark":{"type":"rule","color":"#222","strokeWidth":1},"encoding":{"x":{"field":"a","type":"nominal"},"x2":{"field":"b"},"y":{"field":"v","type":"quantitative"}}},
    {"data":{"name":"sig"},"transform":[{"filter":"datum.p=='b2'"}],"mark":{"type":"rule","color":"#222","strokeWidth":1,"y2Offset":4},"encoding":{"x":{"field":"a","type":"nominal"},"y":{"field":"v","type":"quantitative"},"y2":{"field":"v"}}},
    {"data":{"name":"sig"},"transform":[{"filter":"datum.p=='b2'"}],"mark":{"type":"rule","color":"#222","strokeWidth":1,"y2Offset":4},"encoding":{"x":{"field":"b","type":"nominal"},"y":{"field":"v","type":"quantitative"},"y2":{"field":"v"}}},
    {"data":{"name":"sig"},"transform":[{"filter":"datum.p=='b2' && indexof(datum.t,'*')==0"}],"mark":{"type":"text","color":"#000","fontSize":11,"fontWeight":"bold","baseline":"alphabetic","dy":3},"encoding":{"x":{"field":"c","type":"nominal"},"y":{"field":"v","type":"quantitative"},"text":{"field":"t"}}},
    {"data":{"name":"one"},"mark":{"type":"rule","color":"#333","strokeWidth":1,"yOffset":39,"x2Offset":8},"encoding":{"x":{"datum":"q10"},"x2":{"datum":"TgSGP/+"},"y":{"datum":0}}},
    {"data":{"name":"one"},"mark":{"type":"rule","color":"#333","strokeWidth":1,"yOffset":34,"y2Offset":39},"encoding":{"x":{"datum":"q10"},"y":{"datum":0},"y2":{"datum":0}}},
    {"data":{"name":"one"},"mark":{"type":"rule","color":"#333","strokeWidth":1,"yOffset":34,"y2Offset":39,"xOffset":8},"encoding":{"x":{"datum":"TgSGP/+"},"y":{"datum":0},"y2":{"datum":0}}},
    {"data":{"name":"one"},"mark":{"type":"text","color":"#000","fontSize":9,"fontStyle":"italic","baseline":"alphabetic","dy":50},"encoding":{"x":{"datum":"q19"},"y":{"datum":0},"text":{"value":"Csf-1ᵒᵖ/ᵒᵖ"}}}
   ]},
   {"width":53,"height":80,"data":{"values":[]},"mark":"point"},
   {"width":130,"height":80,"title":{"text":"TNF-α⁺","dx":4,"offset":-9.2,"baseline":"alphabetic"},"layer":[
    {"data":{"name":"bars"},"transform":[{"filter":"datum.p=='b3'"}],"mark":{"type":"bar","width":{"band":4},"stroke":"#1a1a1a","strokeWidth":1.1},"encoding":{"x":{"field":"s","type":"nominal","scale":{"domain":["WT","q1","q2","q3","Csf-1ᵒᵖ/ᵒᵖ","q5","q6","q7","q8","q9","q10","q11","TgC/+","q13","q14","q15","q16","q17","TgCS/+","q19","q20","q21","TgSPP/+","q23","q24","q25","TgSGP/+"],"paddingInner":0,"paddingOuter":1.9,"align":0.5},"axis":{"title":null,"ticks":false,"labelAngle":-45,"labelAlign":"right","labelBaseline":"middle","labelPadding":6,"labelOffset":-2,"labelOverlap":false,"labelFontSize":9,"labelExpr":"indexof(datum.value,'q')==0 ? '' : datum.value","labelFontStyle":{"condition":{"test":"indexof(datum.value,'Csf')==0","value":"italic"},"value":"normal"}}},"y":{"field":"m","type":"quantitative","scale":{"domain":[0,1.25],"nice":false},"axis":{"values":[0,0.5,1],"labelExpr":"datum.value==0 ? '0' : format(datum.value,'.1f')","title":"# cells (x10³)","tickSize":3,"labelPadding":2,"titleFontSize":11.5,"titlePadding":9}},"fill":{"field":"s","type":"nominal","scale":{"domain":["WT","Csf-1ᵒᵖ/ᵒᵖ","TgC/+","TgCS/+","TgSPP/+","TgSGP/+"],"range":["#000000","#ffffff","#bdbdbd","#bdbdbd","#bdbdbd","#bdbdbd"]},"legend":null}}},
    {"data":{"name":"bars"},"transform":[{"filter":"datum.p=='b3'"}],"mark":{"type":"rule","color":"#1a1a1a","strokeWidth":1.1},"encoding":{"x":{"field":"s","type":"nominal"},"y":{"field":"m","type":"quantitative"},"y2":{"field":"e"}}},
    {"data":{"name":"bars"},"transform":[{"filter":"datum.p=='b3'"}],"mark":{"type":"tick","color":"#1a1a1a","thickness":1.1,"size":9},"encoding":{"x":{"field":"s","type":"nominal"},"y":{"field":"e","type":"quantitative"}}},
    {"data":{"name":"sig"},"transform":[{"filter":"datum.p=='b3'"}],"mark":{"type":"rule","color":"#222","strokeWidth":1},"encoding":{"x":{"field":"a","type":"nominal"},"x2":{"field":"b"},"y":{"field":"v","type":"quantitative"}}},
    {"data":{"name":"sig"},"transform":[{"filter":"datum.p=='b3'"}],"mark":{"type":"rule","color":"#222","strokeWidth":1,"y2Offset":4},"encoding":{"x":{"field":"a","type":"nominal"},"y":{"field":"v","type":"quantitative"},"y2":{"field":"v"}}},
    {"data":{"name":"sig"},"transform":[{"filter":"datum.p=='b3'"}],"mark":{"type":"rule","color":"#222","strokeWidth":1,"y2Offset":4},"encoding":{"x":{"field":"b","type":"nominal"},"y":{"field":"v","type":"quantitative"},"y2":{"field":"v"}}},
    {"data":{"name":"sig"},"transform":[{"filter":"datum.p=='b3' && indexof(datum.t,'*')==0"}],"mark":{"type":"text","color":"#000","fontSize":11,"fontWeight":"bold","baseline":"alphabetic","dy":3},"encoding":{"x":{"field":"c","type":"nominal"},"y":{"field":"v","type":"quantitative"},"text":{"field":"t"}}},
    {"data":{"name":"one"},"mark":{"type":"text","color":"#000","baseline":"top","fontSize":9,"lineHeight":10},"encoding":{"x":{"datum":"q1"},"y":{"datum":1.55},"text":{"value":["*p<0.05","**p<0.01"]}}},
    {"data":{"name":"one"},"mark":{"type":"text","color":"#000","baseline":"alphabetic","fontSize":10.5},"encoding":{"x":{"datum":"q2"},"y":{"datum":1.08},"text":{"value":"n= 6-8"}}},
    {"data":{"name":"one"},"mark":{"type":"rule","color":"#333","strokeWidth":1,"yOffset":39,"x2Offset":8},"encoding":{"x":{"datum":"q10"},"x2":{"datum":"TgSGP/+"},"y":{"datum":0}}},
    {"data":{"name":"one"},"mark":{"type":"rule","color":"#333","strokeWidth":1,"yOffset":34,"y2Offset":39},"encoding":{"x":{"datum":"q10"},"y":{"datum":0},"y2":{"datum":0}}},
    {"data":{"name":"one"},"mark":{"type":"rule","color":"#333","strokeWidth":1,"yOffset":34,"y2Offset":39,"xOffset":8},"encoding":{"x":{"datum":"TgSGP/+"},"y":{"datum":0},"y2":{"datum":0}}},
    {"data":{"name":"one"},"mark":{"type":"text","color":"#000","fontSize":9,"fontStyle":"italic","baseline":"alphabetic","dy":50},"encoding":{"x":{"datum":"q19"},"y":{"datum":0},"text":{"value":"Csf-1ᵒᵖ/ᵒᵖ"}}}
   ]}
 ],"spacing":10,"bounds":"flush","title":{"text":"C̲D̲1̲1̲b̲⁺̲:","anchor":"start","dx":-44,"offset":-24,"baseline":"alphabetic"}},
 {"hconcat":[
   {"width":125,"height":79,"title":{"text":"CD69⁺","dx":4,"offset":5.5,"baseline":"alphabetic"},"layer":[
    {"data":{"name":"bars"},"transform":[{"filter":"datum.p=='b4'"}],"mark":{"type":"bar","width":{"band":4},"stroke":"#1a1a1a","strokeWidth":1.1},"encoding":{"x":{"field":"s","type":"nominal","scale":{"domain":["WT","q1","q2","q3","Csf-1ᵒᵖ/ᵒᵖ","q5","q6","q7","q8","q9","q10","q11","TgC/+","q13","q14","q15","q16","q17","TgCS/+","q19","q20","q21","TgSPP/+","q23","q24","q25","TgSGP/+"],"paddingInner":0,"paddingOuter":1.9,"align":0.5},"axis":{"ticks":false,"labelAngle":-45,"labelAlign":"right","labelBaseline":"middle","labelPadding":6,"labelOffset":-2,"labelOverlap":false,"labelFontSize":9,"labelExpr":"indexof(datum.value,'q')==0 ? '' : datum.value","labelFontStyle":{"condition":{"test":"indexof(datum.value,'Csf')==0","value":"italic"},"value":"normal"},"title":["MRL-Fasˡᵖʳ","strains:"],"titleX":-57,"titleY":8,"titleAlign":"left","titleBaseline":"alphabetic","titleAngle":0,"titleFontSize":12,"titleLineHeight":13}},"y":{"field":"m","type":"quantitative","scale":{"domain":[0,2.5],"nice":false},"axis":{"values":[0,1,2],"title":"# cells (x10³)","tickSize":3,"labelPadding":2,"titleFontSize":11.5,"titlePadding":8}},"fill":{"field":"s","type":"nominal","scale":{"domain":["WT","Csf-1ᵒᵖ/ᵒᵖ","TgC/+","TgCS/+","TgSPP/+","TgSGP/+"],"range":["#000000","#ffffff","#bdbdbd","#bdbdbd","#bdbdbd","#bdbdbd"]},"legend":null}}},
    {"data":{"name":"bars"},"transform":[{"filter":"datum.p=='b4'"}],"mark":{"type":"rule","color":"#1a1a1a","strokeWidth":1.1},"encoding":{"x":{"field":"s","type":"nominal"},"y":{"field":"m","type":"quantitative"},"y2":{"field":"e"}}},
    {"data":{"name":"bars"},"transform":[{"filter":"datum.p=='b4'"}],"mark":{"type":"tick","color":"#1a1a1a","thickness":1.1,"size":9},"encoding":{"x":{"field":"s","type":"nominal"},"y":{"field":"e","type":"quantitative"}}},
    {"data":{"name":"sig"},"transform":[{"filter":"datum.p=='b4'"}],"mark":{"type":"rule","color":"#222","strokeWidth":1},"encoding":{"x":{"field":"a","type":"nominal"},"x2":{"field":"b"},"y":{"field":"v","type":"quantitative"}}},
    {"data":{"name":"sig"},"transform":[{"filter":"datum.p=='b4'"}],"mark":{"type":"rule","color":"#222","strokeWidth":1,"y2Offset":4},"encoding":{"x":{"field":"a","type":"nominal"},"y":{"field":"v","type":"quantitative"},"y2":{"field":"v"}}},
    {"data":{"name":"sig"},"transform":[{"filter":"datum.p=='b4'"}],"mark":{"type":"rule","color":"#222","strokeWidth":1,"y2Offset":4},"encoding":{"x":{"field":"b","type":"nominal"},"y":{"field":"v","type":"quantitative"},"y2":{"field":"v"}}},
    {"data":{"name":"sig"},"transform":[{"filter":"datum.p=='b4' && indexof(datum.t,'*')==0"}],"mark":{"type":"text","color":"#000","fontSize":11,"fontWeight":"bold","baseline":"alphabetic","dy":3},"encoding":{"x":{"field":"c","type":"nominal"},"y":{"field":"v","type":"quantitative"},"text":{"field":"t"}}},
    {"data":{"name":"one"},"mark":{"type":"rule","color":"#333","strokeWidth":1,"yOffset":35,"x2Offset":8},"encoding":{"x":{"datum":"q10"},"x2":{"datum":"TgSGP/+"},"y":{"datum":0}}},
    {"data":{"name":"one"},"mark":{"type":"rule","color":"#333","strokeWidth":1,"yOffset":30,"y2Offset":35},"encoding":{"x":{"datum":"q10"},"y":{"datum":0},"y2":{"datum":0}}},
    {"data":{"name":"one"},"mark":{"type":"rule","color":"#333","strokeWidth":1,"yOffset":30,"y2Offset":35,"xOffset":8},"encoding":{"x":{"datum":"TgSGP/+"},"y":{"datum":0},"y2":{"datum":0}}},
    {"data":{"name":"one"},"mark":{"type":"text","color":"#000","fontSize":9,"fontStyle":"italic","baseline":"alphabetic","dy":42},"encoding":{"x":{"datum":"q19"},"y":{"datum":0},"text":{"value":"Csf-1ᵒᵖ/ᵒᵖ"}}}
   ]},
   {"width":135,"height":79,"title":{"text":"CD86⁺","dx":-5,"offset":-21.1,"baseline":"alphabetic"},"layer":[
    {"data":{"name":"bars"},"transform":[{"filter":"datum.p=='b5'"}],"mark":{"type":"bar","width":{"band":4},"stroke":"#1a1a1a","strokeWidth":1.1},"encoding":{"x":{"field":"s","type":"nominal","scale":{"domain":["WT","q1","q2","q3","Csf-1ᵒᵖ/ᵒᵖ","q5","q6","q7","q8","q9","q10","q11","TgC/+","q13","q14","q15","q16","q17","TgCS/+","q19","q20","q21","TgSPP/+","q23","q24","q25","TgSGP/+"],"paddingInner":0,"paddingOuter":1.9,"align":0.5},"axis":{"title":null,"ticks":false,"labelAngle":-45,"labelAlign":"right","labelBaseline":"middle","labelPadding":6,"labelOffset":-2,"labelOverlap":false,"labelFontSize":9,"labelExpr":"indexof(datum.value,'q')==0 ? '' : datum.value","labelFontStyle":{"condition":{"test":"indexof(datum.value,'Csf')==0","value":"italic"},"value":"normal"}}},"y":{"field":"m","type":"quantitative","scale":{"domain":[0,2.5],"nice":false},"axis":{"values":[0,1,2],"labels":false,"title":null,"tickSize":3}},"fill":{"field":"s","type":"nominal","scale":{"domain":["WT","Csf-1ᵒᵖ/ᵒᵖ","TgC/+","TgCS/+","TgSPP/+","TgSGP/+"],"range":["#000000","#ffffff","#bdbdbd","#bdbdbd","#bdbdbd","#bdbdbd"]},"legend":null}}},
    {"data":{"name":"bars"},"transform":[{"filter":"datum.p=='b5'"}],"mark":{"type":"rule","color":"#1a1a1a","strokeWidth":1.1},"encoding":{"x":{"field":"s","type":"nominal"},"y":{"field":"m","type":"quantitative"},"y2":{"field":"e"}}},
    {"data":{"name":"bars"},"transform":[{"filter":"datum.p=='b5'"}],"mark":{"type":"tick","color":"#1a1a1a","thickness":1.1,"size":9},"encoding":{"x":{"field":"s","type":"nominal"},"y":{"field":"e","type":"quantitative"}}},
    {"data":{"name":"sig"},"transform":[{"filter":"datum.p=='b5'"}],"mark":{"type":"rule","color":"#222","strokeWidth":1},"encoding":{"x":{"field":"a","type":"nominal"},"x2":{"field":"b"},"y":{"field":"v","type":"quantitative"}}},
    {"data":{"name":"sig"},"transform":[{"filter":"datum.p=='b5'"}],"mark":{"type":"rule","color":"#222","strokeWidth":1,"y2Offset":4},"encoding":{"x":{"field":"a","type":"nominal"},"y":{"field":"v","type":"quantitative"},"y2":{"field":"v"}}},
    {"data":{"name":"sig"},"transform":[{"filter":"datum.p=='b5'"}],"mark":{"type":"rule","color":"#222","strokeWidth":1,"y2Offset":4},"encoding":{"x":{"field":"b","type":"nominal"},"y":{"field":"v","type":"quantitative"},"y2":{"field":"v"}}},
    {"data":{"name":"sig"},"transform":[{"filter":"datum.p=='b5' && indexof(datum.t,'*')==0"}],"mark":{"type":"text","color":"#000","fontSize":11,"fontWeight":"bold","baseline":"alphabetic","dy":3},"encoding":{"x":{"field":"c","type":"nominal"},"y":{"field":"v","type":"quantitative"},"text":{"field":"t"}}},
    {"data":{"name":"one"},"mark":{"type":"text","color":"#000","baseline":"top","fontSize":9,"lineHeight":10,"dx":-5},"encoding":{"x":{"datum":"WT"},"y":{"datum":3.61},"text":{"value":["*p<0.05","**p<0.01"]}}},
    {"data":{"name":"one"},"mark":{"type":"text","color":"#000","baseline":"alphabetic","fontSize":10.5},"encoding":{"x":{"datum":"WT"},"y":{"datum":2.78},"text":{"value":"n= 6-8"}}},
    {"data":{"name":"one"},"mark":{"type":"rule","color":"#333","strokeWidth":1,"yOffset":35,"x2Offset":8},"encoding":{"x":{"datum":"q10"},"x2":{"datum":"TgSGP/+"},"y":{"datum":0}}},
    {"data":{"name":"one"},"mark":{"type":"rule","color":"#333","strokeWidth":1,"yOffset":30,"y2Offset":35},"encoding":{"x":{"datum":"q10"},"y":{"datum":0},"y2":{"datum":0}}},
    {"data":{"name":"one"},"mark":{"type":"rule","color":"#333","strokeWidth":1,"yOffset":30,"y2Offset":35,"xOffset":8},"encoding":{"x":{"datum":"TgSGP/+"},"y":{"datum":0},"y2":{"datum":0}}},
    {"data":{"name":"one"},"mark":{"type":"text","color":"#000","fontSize":9,"fontStyle":"italic","baseline":"alphabetic","dy":42},"encoding":{"x":{"datum":"q19"},"y":{"datum":0},"text":{"value":"Csf-1ᵒᵖ/ᵒᵖ"}}}
   ]},
   {"width":68,"height":79,"data":{"values":[]},"mark":"point"},
   {"width":142,"height":77,"title":{"text":"C   Intra-renal TEC Apoptosis (5 mo)","anchor":"start","dx":-78,"offset":-8.9,"fontSize":13.5,"baseline":"alphabetic"},"layer":[
    {"data":{"name":"bars"},"transform":[{"filter":"datum.p=='c1'"}],"mark":{"type":"bar","width":{"band":4},"stroke":"#1a1a1a","strokeWidth":1.1},"encoding":{"x":{"field":"s","type":"nominal","scale":{"domain":["WT","q1","q2","q3","Csf-1ᵒᵖ/ᵒᵖ","q5","q6","q7","q8","q9","q10","q11","TgC/+","q13","q14","q15","q16","q17","TgCS/+","q19","q20","q21","TgSPP/+","q23","q24","q25","TgSGP/+"],"paddingInner":0,"paddingOuter":1.9,"align":0.5},"axis":{"ticks":false,"labelAngle":-45,"labelAlign":"right","labelBaseline":"middle","labelPadding":6,"labelOffset":-2,"labelOverlap":false,"labelFontSize":9,"labelExpr":"indexof(datum.value,'q')==0 ? '' : datum.value","labelFontStyle":{"condition":{"test":"indexof(datum.value,'Csf')==0","value":"italic"},"value":"normal"},"title":["MRL-Fasˡᵖʳ","strains:"],"titleX":-75,"titleY":9,"titleAlign":"left","titleBaseline":"alphabetic","titleAngle":0,"titleFontSize":12,"titleLineHeight":11.5}},"y":{"field":"m","type":"quantitative","scale":{"domain":[0,5.3],"nice":false},"axis":{"values":[0,2.5,5],"labelExpr":"format(datum.value,'~g')","title":"# cells/hpf","tickSize":3,"labelPadding":2,"titleFontSize":8.5,"titlePadding":4}},"fill":{"field":"s","type":"nominal","scale":{"domain":["WT","Csf-1ᵒᵖ/ᵒᵖ","TgC/+","TgCS/+","TgSPP/+","TgSGP/+"],"range":["#000000","#ffffff","#bdbdbd","#bdbdbd","#bdbdbd","#bdbdbd"]},"legend":null}}},
    {"data":{"name":"bars"},"transform":[{"filter":"datum.p=='c1'"}],"mark":{"type":"rule","color":"#1a1a1a","strokeWidth":1.1},"encoding":{"x":{"field":"s","type":"nominal"},"y":{"field":"m","type":"quantitative"},"y2":{"field":"e"}}},
    {"data":{"name":"bars"},"transform":[{"filter":"datum.p=='c1'"}],"mark":{"type":"tick","color":"#1a1a1a","thickness":1.1,"size":9},"encoding":{"x":{"field":"s","type":"nominal"},"y":{"field":"e","type":"quantitative"}}},
    {"data":{"name":"sig"},"transform":[{"filter":"datum.p=='c1'"}],"mark":{"type":"rule","color":"#222","strokeWidth":1},"encoding":{"x":{"field":"a","type":"nominal"},"x2":{"field":"b"},"y":{"field":"v","type":"quantitative"}}},
    {"data":{"name":"sig"},"transform":[{"filter":"datum.p=='c1'"}],"mark":{"type":"rule","color":"#222","strokeWidth":1,"y2Offset":4},"encoding":{"x":{"field":"a","type":"nominal"},"y":{"field":"v","type":"quantitative"},"y2":{"field":"v"}}},
    {"data":{"name":"sig"},"transform":[{"filter":"datum.p=='c1'"}],"mark":{"type":"rule","color":"#222","strokeWidth":1,"y2Offset":4},"encoding":{"x":{"field":"b","type":"nominal"},"y":{"field":"v","type":"quantitative"},"y2":{"field":"v"}}},
    {"data":{"name":"sig"},"transform":[{"filter":"datum.p=='c1' && indexof(datum.t,'*')==0"}],"mark":{"type":"text","color":"#000","fontSize":11,"fontWeight":"bold","baseline":"alphabetic","dy":3},"encoding":{"x":{"field":"c","type":"nominal"},"y":{"field":"v","type":"quantitative"},"text":{"field":"t"}}},
    {"data":{"name":"sig"},"transform":[{"filter":"datum.p=='c1' && indexof(datum.t,'p')==0"}],"mark":{"type":"text","color":"#000","fontSize":7.5,"baseline":"alphabetic","dy":-1.5},"encoding":{"x":{"field":"c","type":"nominal"},"y":{"field":"v","type":"quantitative"},"text":{"field":"t"}}},
    {"data":{"name":"one"},"mark":{"type":"text","color":"#000","baseline":"top","fontSize":9,"lineHeight":10},"encoding":{"x":{"datum":"WT"},"y":{"datum":6.48},"text":{"value":["*p<0.05","**p<0.01"]}}},
    {"data":{"name":"one"},"mark":{"type":"text","color":"#000","baseline":"alphabetic","fontSize":10.5},"encoding":{"x":{"datum":"WT"},"y":{"datum":4.69},"text":{"value":"n= 6-8"}}},
    {"data":{"name":"one"},"mark":{"type":"rule","color":"#333","strokeWidth":1,"yOffset":31,"x2Offset":8},"encoding":{"x":{"datum":"q10"},"x2":{"datum":"TgSGP/+"},"y":{"datum":0}}},
    {"data":{"name":"one"},"mark":{"type":"rule","color":"#333","strokeWidth":1,"yOffset":26,"y2Offset":31},"encoding":{"x":{"datum":"q10"},"y":{"datum":0},"y2":{"datum":0}}},
    {"data":{"name":"one"},"mark":{"type":"rule","color":"#333","strokeWidth":1,"yOffset":26,"y2Offset":31,"xOffset":8},"encoding":{"x":{"datum":"TgSGP/+"},"y":{"datum":0},"y2":{"datum":0}}},
    {"data":{"name":"one"},"mark":{"type":"text","color":"#000","fontSize":9,"fontStyle":"italic","baseline":"alphabetic","dy":42},"encoding":{"x":{"datum":"q19"},"y":{"datum":0},"text":{"value":"Csf-1ᵒᵖ/ᵒᵖ"}}}
   ]}
 ],"spacing":6,"bounds":"flush","title":{"text":"C̲D̲4̲⁺̲:","anchor":"start","dx":-30,"offset":-23,"baseline":"alphabetic"}}
],"spacing":16,"title":{"text":"B    Intra-renal Leukocyte Activation (5 mo)","anchor":"start","dx":-56,"offset":-1.5,"fontSize":13.5,"baseline":"alphabetic"}}
],"spacing":13
}
